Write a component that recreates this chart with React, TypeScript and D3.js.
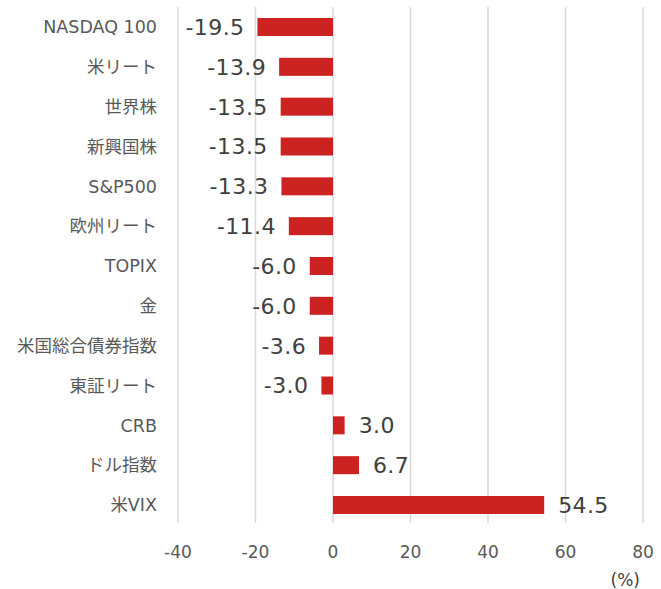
import React from "react";
import * as d3 from "d3";

const categories = [
  "NASDAQ 100",
  "米リート",
  "世界株",
  "新興国株",
  "S&P500",
  "欧州リート",
  "TOPIX",
  "金",
  "米国総合債券指数",
  "東証リート",
  "CRB",
  "ドル指数",
  "米VIX",
];
const values = [-19.5, -13.9, -13.5, -13.5, -13.3, -11.4, -6.0, -6.0, -3.6, -3.0, 3.0, 6.7, 54.5];
const xTicks = [-40, -20, 0, 20, 40, 60, 80];
const unitLabel = "(%)";

export default function App() {
  const W = 661;
  const H = 589;
  const x = d3.scaleLinear().domain([-40, 80]).range([178, 643]);
  const y = d3.scalePoint<string>().domain(categories).range([27, 505]);
  const bw = 18;
  const labelFont = "'DejaVu Sans', 'Noto Sans CJK JP', sans-serif";
  return (
    <svg width={W} height={H} style={{ position: "absolute", left: 0, top: 0, background: "#fff" }}>
      {xTicks.map((t) => (
        <line key={"g" + t} x1={x(t)} x2={x(t)} y1={7} y2={523} stroke="#d9d9d9" strokeWidth={1.5} />
      ))}
      {categories.map((c, i) => {
        const v = values[i];
        const yc = y(c) as number;
        const x0 = x(Math.min(0, v));
        const x1 = x(Math.max(0, v));
        return (
          <g key={c}>
            <rect x={x0} y={yc - bw / 2} width={x1 - x0} height={bw} fill="#CC2222" />
            <text
              x={v < 0 ? x0 - 13 : x1 + 14}
              y={yc}
              dy="0.36em"
              textAnchor={v < 0 ? "end" : "start"}
              fontFamily="'DejaVu Sans', sans-serif"
              fontSize={22}
              letterSpacing={0.4}
              fill="#404040"
            >
              {v.toFixed(1)}
            </text>
            <text
              x={157}
              y={yc}
              dy="0.36em"
              textAnchor="end"
              fontFamily={labelFont}
              fontSize={17.5}
              fill="#595959"
            >
              {c}
            </text>
          </g>
        );
      })}
      {xTicks.map((t) => (
        <text
          key={"t" + t}
          x={x(t)}
          y={552}
          dy="0.36em"
          textAnchor="middle"
          fontFamily="'DejaVu Sans', sans-serif"
          fontSize={17}
          fill="#595959"
        >
          {t}
        </text>
      ))}
      <text x={640} y={580} dy="0.36em" textAnchor="end" fontFamily="'DejaVu Sans', sans-serif" fontSize={17} fill="#404040">
        {unitLabel}
      </text>
    </svg>
  );
}
